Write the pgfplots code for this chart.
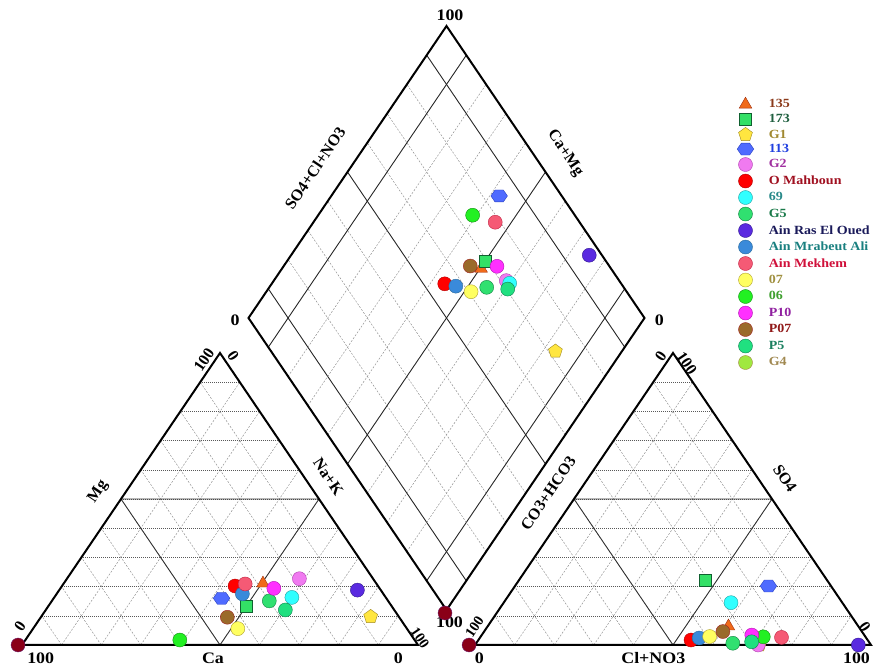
\documentclass[border=0pt]{standalone}
\usepackage{pgfplots}
\pgfplotsset{compat=1.18}
\usepackage{pgfplotstable}
\usepackage{fontspec}
\setmainfont{Liberation Serif}
\newfontfamily\wideserif{Liberation Serif}[FakeStretch=1.12]

\pgfdeclareplotmark{hexagon*}{%
  \pgfpathmoveto{\pgfqpoint{\pgfplotmarksize}{0pt}}%
  \pgfpathlineto{\pgfqpoint{0.5\pgfplotmarksize}{0.72\pgfplotmarksize}}%
  \pgfpathlineto{\pgfqpoint{-0.5\pgfplotmarksize}{0.72\pgfplotmarksize}}%
  \pgfpathlineto{\pgfqpoint{-\pgfplotmarksize}{0pt}}%
  \pgfpathlineto{\pgfqpoint{-0.5\pgfplotmarksize}{-0.72\pgfplotmarksize}}%
  \pgfpathlineto{\pgfqpoint{0.5\pgfplotmarksize}{-0.72\pgfplotmarksize}}%
  \pgfpathclose
  \pgfusepathqfillstroke}

% marker fill / border / text colours
\definecolor{f135}{HTML}{F06A1A}\definecolor{b135}{HTML}{A03010}\definecolor{t135}{HTML}{8B3A1A}
\definecolor{f173}{HTML}{33E066}\definecolor{b173}{HTML}{106030}\definecolor{t173}{HTML}{1F5F3F}
\definecolor{fG1}{HTML}{FFE640}\definecolor{bG1}{HTML}{A08820}\definecolor{tG1}{HTML}{A08830}
\definecolor{f113}{HTML}{4F6BFF}\definecolor{b113}{HTML}{2A40C0}\definecolor{t113}{HTML}{2040E0}
\definecolor{fG2}{HTML}{F07AF0}\definecolor{bG2}{HTML}{B040B0}\definecolor{tG2}{HTML}{A030A0}
\definecolor{fOM}{HTML}{FF0000}\definecolor{bOM}{HTML}{B00000}\definecolor{tOM}{HTML}{A01020}
\definecolor{f69}{HTML}{30FFFF}\definecolor{b69}{HTML}{20A0A0}\definecolor{t69}{HTML}{2A8A8A}
\definecolor{fG5}{HTML}{30E070}\definecolor{bG5}{HTML}{108040}\definecolor{tG5}{HTML}{1A7A4A}
\definecolor{fRE}{HTML}{5A2AE0}\definecolor{bRE}{HTML}{301890}\definecolor{tRE}{HTML}{1A1A5A}
\definecolor{fMA}{HTML}{3A8ADA}\definecolor{bMA}{HTML}{2A6A9A}\definecolor{tMA}{HTML}{1A8080}
\definecolor{fMK}{HTML}{F55A75}\definecolor{bMK}{HTML}{C02040}\definecolor{tMK}{HTML}{D0103A}
\definecolor{f07}{HTML}{FFFF60}\definecolor{b07}{HTML}{B0A030}\definecolor{t07}{HTML}{A09040}
\definecolor{f06}{HTML}{22F022}\definecolor{b06}{HTML}{109010}\definecolor{t06}{HTML}{40A030}
\definecolor{fP10}{HTML}{FF30FF}\definecolor{bP10}{HTML}{B010B0}\definecolor{tP10}{HTML}{9020A0}
\definecolor{fP07}{HTML}{9A6A2A}\definecolor{bP07}{HTML}{A02020}\definecolor{tP07}{HTML}{901818}
\definecolor{fP5}{HTML}{20E080}\definecolor{bP5}{HTML}{108050}\definecolor{tP5}{HTML}{1A8060}
\definecolor{fG4}{HTML}{A0E840}\definecolor{bG4}{HTML}{A08840}\definecolor{tG4}{HTML}{A08850}
\definecolor{fX}{HTML}{8A0018}\definecolor{bX}{HTML}{6A1A6A}

% percentages: NaK and Mg (cations, Ca = rest), Cl(+NO3) and SO4 (anions, CO3+HCO3 = rest)
\pgfplotstableread{
cls NaK Mg Cl SO4
G1 83.2 9.7 71.8 0.0
c135 50.3 21.1 60.8 6.4
c173 50.0 13.4 47.0 22.3
c113 42.4 16.0 64.0 20.2
G2 58.7 22.7 71.5 0.0
OM 43.7 20.2 53.7 1.7
c69 60.0 16.3 57.4 14.5
G5 54.9 15.1 64.8 0.6
RE 75.3 18.8 96.8 0.0
MA 46.9 17.5 55.4 2.4
MK 45.9 20.9 76.1 2.6
c07 51.7 5.6 57.8 2.9
c06 39.0 1.7 71.4 2.8
P10 53.9 19.4 68.2 3.4
P07 47.1 9.5 60.3 4.6
P5 60.5 12.0 69.3 1.1
}\samples

\pgfplotstableread{
NaK Mg Cl SO4
-1.0 0 -1.5 0
}\dummy

\tikzset{
  edge/.style={line width=2pt,black,line join=miter},
  mid/.style={line width=0.9pt,black!80},
  hgrid/.style={line width=0.5pt,black!65,dash pattern=on 1pt off 1pt},
  dgrid/.style={line width=0.45pt,black!45,dash pattern=on 2pt off 1.5pt},
  dsolid/.style={line width=0.9pt,black!85},
  lab/.style={font=\fontsize{16}{16}\selectfont\bfseries,inner sep=0pt},
  hlab/.style={font=\wideserif\fontsize{16}{16}\selectfont\bfseries,inner sep=0pt},
}

\begin{document}
\begin{tikzpicture}
\path[use as bounding box] (0,0) rectangle (873pt,668pt);
\begin{scope}[x=1pt,y=1pt]
% ---- triangles ----
\foreach \xo in {22,475}{
  \foreach \i [evaluate=\i as \t using \i/10] in {1,...,9}{
    \draw[hgrid] ({\xo+198*\t},{23+292*\t}) -- ({\xo+396-198*\t},{23+292*\t});
    \draw[dgrid] ({\xo+396*\t},23) -- ({\xo+198*(1+\t)},{23+292*(1-\t)});
    \draw[dgrid] ({\xo+396*(1-\t)},23) -- ({\xo+198*(1-\t)},{23+292*(1-\t)});
  }
  \draw[mid] ({\xo+198},23) -- ({\xo+99},169) -- ({\xo+297},169) -- cycle;
  \draw[edge] (\xo,23) -- ({\xo+396},23) -- ({\xo+198},315) -- cycle;
}
% ---- diamond ----
\foreach \i/\s in {1/dsolid,2/dgrid,3/dgrid,4/dgrid,5/dsolid,6/dgrid,7/dgrid,8/dgrid,9/dsolid}{
  \pgfmathsetmacro\t{\i/10}
  \draw[\s] ({446.5-198*\t},{58+292*\t}) -- ({446.5+198*(1-\t)},{58+292*(1+\t)});
  \draw[\s] ({446.5+198*\t},{58+292*\t}) -- ({446.5+198*(\t-1)},{58+292*(1+\t)});
}
\draw[edge] (446.5,58) -- (644.5,350) -- (446.5,642) -- (248.5,350) -- cycle;
% ---- labels: left triangle ----
\node[hlab] at (40.7,9.7) {100};
\node[hlab] at (213,9.7) {Ca};
\node[hlab] at (398.3,9.7) {0};
\node[lab,rotate=56] at (98.3,176.3) {Mg};
\node[lab,rotate=56] at (20,41.3) {0};
\node[lab,rotate=56] at (204,308) {100};
\node[lab,rotate=-56] at (233.3,312) {0};
\node[lab,rotate=-56] at (328.3,191.3) {Na+K};
\node[lab,rotate=-56,font=\fontsize{14.5}{15}\selectfont\bfseries] at (420,30.5) {100};
% ---- labels: right triangle ----
\node[hlab] at (479.3,9.7) {0};
\node[hlab] at (653.3,9.7) {Cl+NO3};
\node[hlab] at (856.5,9.7) {100};
\node[lab,rotate=56] at (548.3,174.7) {CO3+HCO3};
\node[lab,rotate=56,font=\fontsize{14.5}{15}\selectfont\bfseries] at (474.5,40.7) {100};
\node[lab,rotate=56] at (660.7,311.3) {0};
\node[lab,rotate=-56] at (686.7,304.7) {100};
\node[lab,rotate=-56] at (785,189.7) {SO4};
\node[lab,rotate=-56] at (865,40.7) {0};
% ---- labels: diamond ----
\node[hlab] at (450,653) {100};
\node[hlab] at (235,347.3) {0};
\node[hlab] at (659.3,347.3) {0};
\node[lab,rotate=56] at (315,499.7) {SO4+Cl+NO3};
\node[lab,rotate=-56] at (565,514.7) {Ca+Mg};
\node[hlab] at (449.5,45.5) {100};
\end{scope}

\begin{axis}[
  x=1pt, y=1pt, xmin=0, xmax=873, ymin=0, ymax=668,
  at={(0,0)}, anchor=south west,
  hide axis, clip=false,
  every mark/.append style={xscale=1.15, line width=0.8pt},
  scatter/classes={
    c135={mark=triangle*, mark size=7.3pt, draw=b135, fill=f135},
    c173={mark=square*, mark size=6pt, draw=b173, fill=f173},
    G1={mark=pentagon*, mark size=7.3pt, draw=bG1, fill=fG1},
    c113={mark=hexagon*, mark size=8.3pt, draw=b113, fill=f113},
    G2={mark=*, mark size=7pt, draw=bG2, fill=fG2},
    OM={mark=*, mark size=7pt, draw=bOM, fill=fOM},
    c69={mark=*, mark size=7pt, draw=b69, fill=f69},
    G5={mark=*, mark size=7pt, draw=bG5, fill=fG5},
    RE={mark=*, mark size=7pt, draw=bRE, fill=fRE},
    MA={mark=*, mark size=7pt, draw=bMA, fill=fMA},
    MK={mark=*, mark size=7pt, draw=bMK, fill=fMK},
    c07={mark=*, mark size=7pt, draw=b07, fill=f07},
    c06={mark=*, mark size=7pt, draw=b06, fill=f06},
    P10={mark=*, mark size=7pt, draw=bP10, fill=fP10},
    P07={mark=*, mark size=7pt, draw=bP07, fill=fP07},
    P5={mark=*, mark size=7pt, draw=bP5, fill=fP5},
    G4={mark=*, mark size=7pt, draw=bG4, fill=fG4}},
  legend style={at={(axis cs:734,573)}, anchor=north west, draw=none, fill=none,
    font=\wideserif\fontsize{12.5}{13}\selectfont\bfseries, row sep=2.5pt, column sep=14pt,
    nodes={inner sep=1pt}, cells={anchor=west}},
]
% left (cation) triangle
\addplot[scatter, only marks, scatter src=explicit symbolic]
  table[x expr={22+3.96*(\thisrow{NaK}+0.5*\thisrow{Mg})}, y expr={23+2.92*\thisrow{Mg}}, meta=cls] {\samples};
% right (anion) triangle
\addplot[scatter, only marks, scatter src=explicit symbolic, forget plot]
  table[x expr={475+3.96*(\thisrow{Cl}+0.5*\thisrow{SO4})}, y expr={23+2.92*\thisrow{SO4}}, meta=cls] {\samples};
% diamond: a = Ca+Mg = 100-NaK, b = SO4+Cl
\addplot[scatter, only marks, scatter src=explicit symbolic, forget plot]
  table[x expr={446.5+1.98*((\thisrow{Cl}+\thisrow{SO4})-(100-\thisrow{NaK}))},
        y expr={58+2.92*((100-\thisrow{NaK})+\thisrow{Cl}+\thisrow{SO4})}, meta=cls] {\samples};
% reference point (at the origin of each diagram)
\addplot[only marks, forget plot, mark=*, mark size=7pt, draw=bX, fill=fX]
  table[x expr={22+3.96*(\thisrow{NaK}+0.5*\thisrow{Mg})}, y expr={23+2.92*\thisrow{Mg}}] {\dummy};
\addplot[only marks, forget plot, mark=*, mark size=7pt, draw=bX, fill=fX]
  table[x expr={475+3.96*(\thisrow{Cl}+0.5*\thisrow{SO4})}, y expr={23+2.92*\thisrow{SO4}}] {\dummy};
\addplot[only marks, forget plot, mark=*, mark size=7pt, draw=bX, fill=fX]
  coordinates {(445,55)};
\legend{\textcolor{t135}{135},\textcolor{t173}{173},\textcolor{tG1}{G1},\textcolor{t113}{113},
  \textcolor{tG2}{G2},\textcolor{tOM}{O Mahboun},\textcolor{t69}{69},\textcolor{tG5}{G5},
  \textcolor{tRE}{Ain Ras El Oued},\textcolor{tMA}{Ain Mrabeut Ali},\textcolor{tMK}{Ain Mekhem},
  \textcolor{t07}{07},\textcolor{t06}{06},\textcolor{tP10}{P10},\textcolor{tP07}{P07},
  \textcolor{tP5}{P5},\textcolor{tG4}{G4}}
\end{axis}
\end{tikzpicture}
\end{document}
